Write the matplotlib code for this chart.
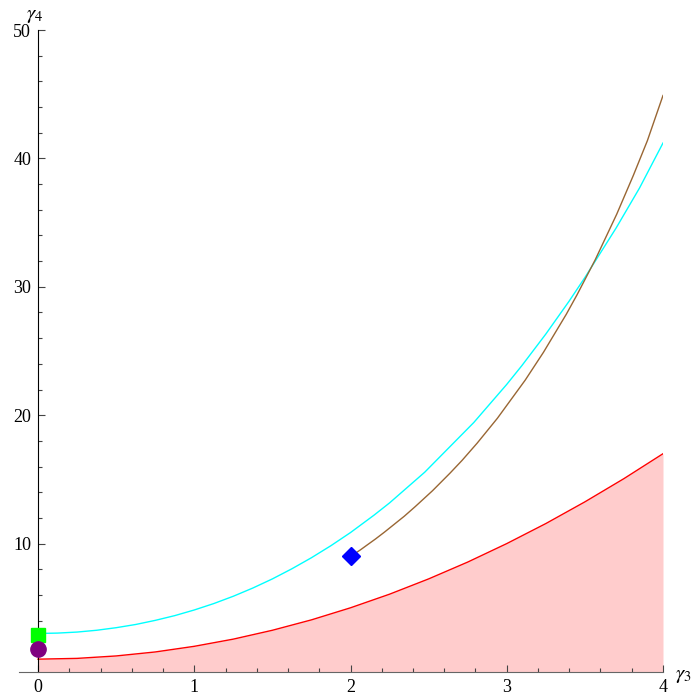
import matplotlib
matplotlib.use('Agg')
import matplotlib.pyplot as plt
from matplotlib.ticker import FixedLocator

plt.rcParams['font.family'] = ['Liberation Serif', 'DejaVu Serif']
plt.rcParams['mathtext.fontset'] = 'stix'

# bound curve (red)
red_x = [0, 0.25, 0.5, 0.75, 1.0, 1.25, 1.5, 1.75, 2.0, 2.25, 2.5, 2.75, 3.0, 3.25, 3.5, 3.75, 4.0]
red_y = [1.0, 1.06, 1.25, 1.56, 2.0, 2.56, 3.25, 4.06, 5.0, 6.06, 7.25, 8.56, 10.0, 11.56, 13.25, 15.06, 17.0]

# cyan curve
cyan_x = [0, 0.125, 0.25, 0.375, 0.5, 0.625, 0.75, 0.875, 1.0, 1.125, 1.25, 1.375, 1.5, 1.625,
          1.75, 1.875, 2.0, 2.150, 2.25, 2.475, 2.789, 3.0, 3.096, 3.25, 3.399, 3.5, 3.700, 3.850, 4.0]
cyan_y = [3.0, 3.03, 3.11, 3.25, 3.45, 3.70, 4.02, 4.39, 4.83, 5.33, 5.90, 6.54, 7.25, 8.04,
          8.90, 9.84, 10.86, 12.21, 13.17, 15.56, 19.43, 22.40, 23.85, 26.32, 28.88, 30.72, 34.58, 37.70, 41.2]

# brown curve
brown_x = [2.0, 2.062, 2.104, 2.160, 2.218, 2.344, 2.415, 2.525, 2.637, 2.714, 2.811, 2.940,
           3.118, 3.235, 3.381, 3.449, 3.566, 3.704, 3.810, 3.900, 4.0]
brown_y = [9.0, 9.50, 9.87, 10.36, 10.90, 12.13, 12.89, 14.12, 15.49, 16.48, 17.83, 19.76,
           22.73, 24.90, 27.86, 29.36, 32.10, 35.66, 38.67, 41.38, 44.9]

# single points
square_pt = (0, 2.9)
circle_pt = (0, 1.8)
diamond_pt = (2, 9.0)

fig = plt.figure(figsize=(6.93, 6.95), dpi=100)
ax = fig.add_axes([0.0278, 0.0331, 0.9289, 0.9237])

ax.fill_between(red_x, 0, red_y, color='#ffcccc', lw=0, zorder=1)
ax.plot(red_x, red_y, color='red', lw=1.0, zorder=3)
ax.plot(cyan_x, cyan_y, color='cyan', lw=1.0, zorder=3)
ax.plot(brown_x, brown_y, color='#996633', lw=1.0, zorder=3)

ax.plot(*square_pt, marker='s', ms=9.5, color='#00ff00', mec='#00ff00', clip_on=False, zorder=5)
ax.plot(*circle_pt, marker='o', ms=11, color='#800080', mec='#800080', clip_on=False, zorder=5)
ax.plot(*diamond_pt, marker='D', ms=9, color='blue', mec='blue', clip_on=False, zorder=5)

ax.set_xlim(-0.12, 4.0)
ax.set_ylim(0, 50)

ax.spines['top'].set_visible(False)
ax.spines['right'].set_visible(False)
ax.spines['left'].set_position(('data', 0))
ax.spines['left'].set_color('black')
ax.spines['bottom'].set_color('#666666')
ax.spines['left'].set_zorder(4)
ax.spines['bottom'].set_zorder(4)

ax.xaxis.set_major_locator(FixedLocator([0, 1, 2, 3, 4]))
ax.xaxis.set_minor_locator(FixedLocator([v / 5 for v in range(1, 20) if v % 5]))
ax.yaxis.set_major_locator(FixedLocator([10, 20, 30, 40, 50]))
ax.yaxis.set_minor_locator(FixedLocator([v for v in range(2, 50, 2) if v % 10]))

ax.tick_params(which='both', direction='in', labelsize=13, color='#444444')
ax.tick_params(which='major', length=5, width=0.8)
ax.tick_params(which='minor', length=3, width=0.8)
ax.tick_params(axis='x', pad=5)
ax.tick_params(axis='y', pad=5)

ax.text(-0.02, 51.1, r'$\gamma_4$', ha='center', va='center', fontsize=15, clip_on=False)
ax.text(4.13, -0.3, r'$\gamma_3$', ha='center', va='center', fontsize=15, clip_on=False)

fig.savefig('out.png', dpi=100)
